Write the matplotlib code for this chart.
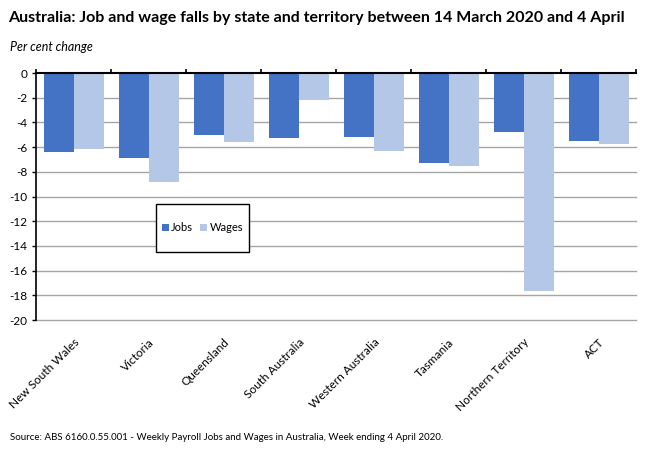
import matplotlib
matplotlib.use("Agg")
import matplotlib.pyplot as plt
from matplotlib.patches import Rectangle
import numpy as np

states = ["New South Wales", "Victoria", "Queensland", "South Australia",
          "Western Australia", "Tasmania", "Northern Territory", "ACT"]
jobs = [-6.4, -6.9, -5.0, -5.25, -5.2, -7.3, -4.75, -5.5]
wages = [-6.15, -8.85, -5.6, -2.2, -6.3, -7.5, -17.65, -5.75]
yticks = [0, -2, -4, -6, -8, -10, -12, -14, -16, -18, -20]

plt.rcParams['font.family'] = ['Lato', 'DejaVu Sans']

fig = plt.figure(figsize=(6.5, 4.55), dpi=100)
ax = fig.add_axes([36/650, 1-320/455, 600/650, 247/455])

x = np.arange(len(states))
w = 0.4
ax.bar(x - w/2, jobs, w, color="#4472C4", label="Jobs", zorder=3)
ax.bar(x + w/2, wages, w, color="#B4C7E7", label="Wages", zorder=3)

ax.set_xlim(-0.5, len(states) - 0.5)
ax.set_ylim(-20, 0)
ax.set_yticks(yticks)
ax.set_yticklabels([str(t) for t in yticks], fontsize=8.5)
for t in yticks[1:]:
    ax.axhline(t, color="#A6A6A6", linewidth=1, zorder=0, clip_on=False)
ax.tick_params(axis='y', length=3, width=1, direction='out', pad=3)

ax.set_xticks(x)
ax.set_xticklabels(states, rotation=45, ha='right', va='top', rotation_mode='anchor', fontsize=8.5)
ax.tick_params(axis='x', length=0, pad=12)

for s in ['right', 'bottom']:
    ax.spines[s].set_visible(False)
ax.spines['left'].set_color('black')
ax.spines['left'].set_linewidth(1.2)
ax.spines['top'].set_color('black')
ax.spines['top'].set_linewidth(1.5)
ax.spines['top'].set_zorder(4)

sec = ax.secondary_xaxis('top')
sec.set_xticks(np.arange(len(states) + 1) - 0.5)
sec.set_xticklabels([])
sec.tick_params(length=3, width=1.2, direction='out')
sec.spines['top'].set_visible(False)

# legend box
ax.add_patch(Rectangle((0.2, 0.275), 0.155, 0.195, transform=ax.transAxes,
                       facecolor='white', edgecolor='black', linewidth=1.0, zorder=5))
leg = ax.legend(loc='center', bbox_to_anchor=(0.2775, 0.3725), ncol=2,
                frameon=False, fontsize=8, borderpad=0, borderaxespad=0,
                handlelength=0.6, handleheight=0.7, handletextpad=0.25, columnspacing=0.6)
leg.set_zorder(6)

fig.text(8/650, 1-18/455, "Australia: Job and wage falls by state and territory between 14 March 2020 and 4 April",
         fontsize=11.5, fontweight='bold', va='center', ha='left')
fig.text(10/650, 1-47/455, "Per cent change", fontsize=9, style='italic', va='center', ha='left')
fig.text(10/650, 1-437/455, "Source: ABS 6160.0.55.001 - Weekly Payroll Jobs and Wages in Australia, Week ending 4 April 2020.",
         fontsize=7, va='center', ha='left')

fig.savefig("out.png", dpi=100)
